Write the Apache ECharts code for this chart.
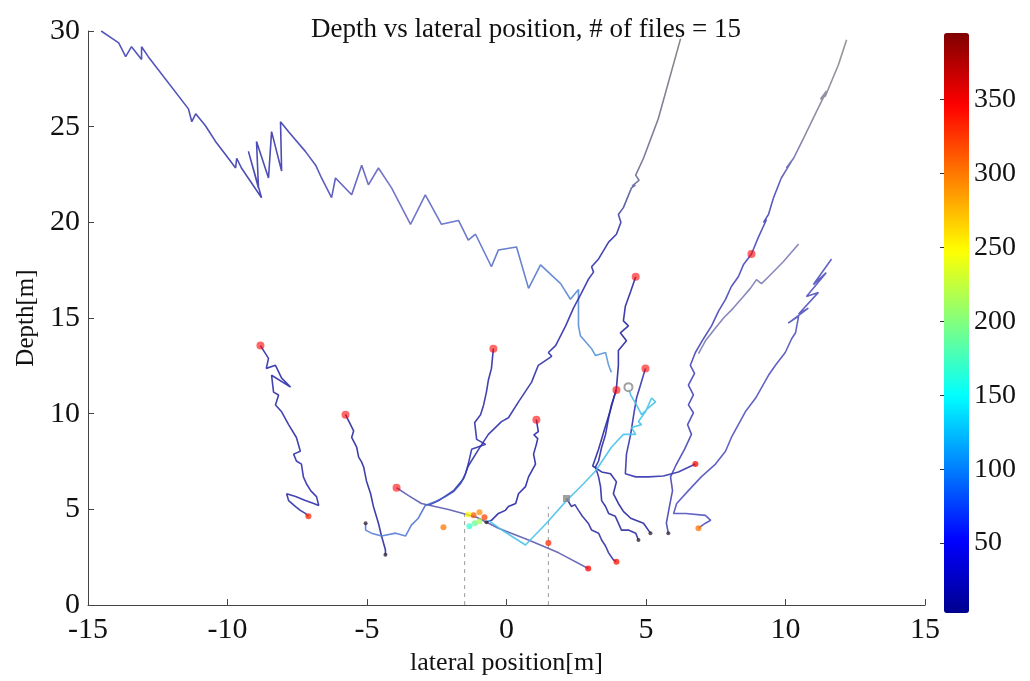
<!DOCTYPE html>
<html><head><meta charset="utf-8">
<script src="https://cdn.jsdelivr.net/npm/echarts@6/dist/echarts.min.js"></script>
<style>html,body{margin:0;padding:0;background:#fff}#c{width:1030px;height:681px}</style>
</head><body><div id="c"></div>
<script>
// ---- data (lateral position [m], depth [m]) ----
const titleText = 'Depth vs lateral position, # of files = 15';
const colorbarTicks = [50, 100, 150, 200, 250, 300, 350];
const colorMin = 3, colorMax = 395;

const t01 = [[-14.53,30.0],[-13.90,29.38],[-13.65,28.66],[-13.44,29.18],[-13.08,28.51],[-13.08,29.18],[-12.84,28.66],[-11.40,25.93],[-11.28,25.26],[-11.14,25.67],[-10.79,25.05],[-10.43,24.23],[-9.97,23.35],[-9.71,22.84],[-9.67,23.35],[-9.50,22.84],[-8.78,21.29],[-9.25,23.71],[-8.89,21.80],[-8.96,24.23],[-8.53,22.32],[-8.42,24.74],[-8.06,22.68],[-8.10,25.26],[-7.81,24.74],[-7.21,23.71],[-6.84,22.99],[-6.63,22.32],[-6.27,21.29],[-6.13,22.32],[-5.55,21.44],[-5.19,22.99],[-4.95,21.96],[-4.59,22.84],[-4.12,21.80],[-3.44,19.90],[-2.91,21.44],[-2.33,19.90],[-1.72,20.10],[-1.37,19.07],[-1.11,19.38],[-0.54,17.68],[-0.29,18.56],[0.36,18.71],[0.79,16.55],[1.22,17.78],[1.94,16.80],[2.29,15.98],[2.58,16.49],[2.58,14.59],[2.65,14.07],[3.05,13.40],[3.19,13.04],[3.55,13.20],[3.66,12.53],[3.76,12.16]];
const t02 = [[6.24,29.6],[5.44,25.41],[4.91,23.35],[4.63,22.47],[4.75,22.2],[4.50,21.9],[4.62,21.95],[4.48,21.80],[4.19,20.77],[4.01,20.41],[4.10,20.0],[3.94,19.38],[3.66,18.97],[3.30,18.09],[3.05,17.68],[3.12,17.4],[2.93,17.01],[2.68,16.29],[2.40,15.52],[2.12,14.59],[1.76,13.56],[1.50,13.20],[1.62,13.0],[1.14,12.53],[0.90,11.65],[0.43,10.62],[0.07,9.79],[-0.18,9.59],[-0.65,8.92],[-1.00,8.14],[-1.37,7.27],[-1.54,6.60],[-1.90,5.98],[-2.43,5.46],[-2.80,5.21]];
const t03 = [[-8.82,13.56],[-8.53,12.89],[-8.61,12.37],[-8.28,12.53],[-8.06,11.86],[-7.74,11.39],[-8.42,12.01],[-8.35,11.13],[-8.17,10.98],[-8.28,10.46],[-8.06,10.10],[-7.81,9.43],[-7.53,8.76],[-7.39,8.04],[-7.63,7.89],[-7.53,7.53],[-7.35,7.37],[-7.28,6.70],[-7.17,6.34],[-7.02,5.98],[-6.81,5.67],[-6.73,5.21],[-6.91,5.31],[-7.21,5.46],[-7.56,5.67],[-7.88,5.82],[-7.81,5.46],[-7.56,5.15],[-7.39,4.95],[-7.21,4.79],[-7.10,4.64]];
const t04 = [[-5.77,9.95],[-5.59,9.43],[-5.48,9.10],[-5.55,8.76],[-5.37,8.25],[-5.30,7.73],[-5.20,7.50],[-5.12,7.22],[-5.02,6.49],[-4.87,5.82],[-4.77,5.15],[-4.59,4.28],[-4.48,3.61],[-4.34,2.89],[-4.34,2.63]];
const t05 = [[-3.94,6.13],[-3.51,5.72],[-3.05,5.31],[-2.08,5.00],[-1.07,4.59],[-0.29,4.02],[0.79,3.40],[1.87,2.73],[2.93,1.91]];
const t06 = [[-0.47,13.40],[-0.54,12.37],[-0.65,11.75],[-0.72,11.13],[-0.82,10.46],[-0.93,9.95],[-1.14,9.54],[-1.07,8.66],[-0.75,8.40],[-1.25,8.14],[-1.37,7.37],[-1.47,6.86],[-1.65,6.34],[-1.90,5.93],[-2.19,5.67],[-2.54,5.41],[-2.91,5.21],[-3.16,4.54],[-3.41,4.18],[-3.62,3.61],[-3.97,3.76],[-4.48,3.61],[-4.84,3.76],[-5.05,3.92],[-5.05,4.28]];
const t07 = [[1.07,9.69],[1.14,9.07],[0.98,8.90],[1.12,8.70],[1.07,8.40],[0.97,7.89],[1.04,7.37],[0.79,6.70],[0.68,6.19],[0.43,5.82],[0.33,5.31],[0.07,5.15],[-0.04,4.95],[-0.29,4.79],[-0.54,4.43],[-0.72,4.33]];
const t08 = [[4.63,17.16],[4.45,16.39],[4.26,15.62],[4.19,14.85],[4.37,14.59],[4.08,14.23],[4.30,13.81],[4.01,13.30],[4.01,12.53],[3.94,11.34],[3.73,10.21],[3.51,9.18],[3.30,8.14],[3.09,7.27],[3.41,6.96],[3.73,6.86],[3.94,6.44],[3.83,5.82],[4.01,5.31],[4.19,4.90],[4.45,4.54],[4.91,4.28],[5.16,3.76]];
const t09 = [[4.98,12.37],[4.80,11.49],[4.66,10.82],[4.56,9.95],[4.45,8.92],[4.30,7.89],[4.26,6.86],[4.63,6.70],[5.09,6.70],[5.62,6.75],[6.16,6.96],[6.77,7.37]];
const t10 = [[3.94,11.24],[3.76,10.46],[3.66,9.79],[3.55,8.92],[3.41,8.25],[3.30,7.53],[3.19,7.22],[3.30,6.70],[3.37,6.19],[3.41,5.46],[3.55,5.15],[3.66,4.79],[3.90,4.64],[4.01,4.28],[4.12,3.92],[4.37,3.92],[4.63,3.76],[4.73,3.40]];
const t11 = [[12.19,29.54],[11.90,28.25],[11.43,26.60],[11.25,26.44],[11.47,26.86],[11.07,25.67],[10.64,24.38],[10.29,23.35],[10.03,22.84],[10.22,23.20],[9.85,22.32],[9.57,21.29],[9.39,20.41],[9.21,20.00],[9.32,20.15],[9.03,19.23],[8.78,18.35],[8.49,17.78],[8.31,17.16],[8.06,16.65],[7.85,15.98],[7.60,15.36],[7.35,14.59],[7.06,13.92],[6.77,13.20],[6.59,12.53],[6.74,12.11],[6.52,11.49],[6.70,10.98],[6.52,10.46],[6.70,10.05],[6.49,9.43],[6.63,8.92],[6.38,8.14],[6.06,7.27],[5.88,6.70],[5.95,5.98],[5.84,5.15],[5.73,4.28],[5.80,3.76]];
const t12 = [[11.65,18.09],[11.00,16.75],[11.46,17.37],[10.75,16.13],[11.18,16.34],[10.47,15.21],[10.82,15.52],[10.10,14.74],[10.47,15.10],[10.36,14.23],[10.22,13.92],[9.99,13.20],[9.64,12.53],[9.39,12.01],[8.93,10.82],[8.56,10.10],[8.31,9.43],[8.06,8.76],[7.85,8.04],[7.49,7.37],[6.98,6.70],[6.52,5.98],[6.10,5.31],[5.99,4.79],[6.42,4.79],[7.13,4.69],[7.32,4.43],[7.13,4.28],[6.88,4.02]];
const t13 = [[10.47,18.87],[9.92,17.94],[9.39,17.16],[9.14,16.80],[8.96,17.01],[8.74,16.55],[8.49,16.13],[8.13,15.52],[7.78,15.00],[7.49,14.48],[7.13,13.81],[6.88,13.14]];
const t14 = [[-0.65,4.43],[-0.11,3.87],[0.68,3.14],[1.43,4.28],[2.15,5.46],[2.76,6.34],[3.19,7.01],[3.76,8.25],[4.19,8.92],[4.63,8.92],[4.48,9.28],[4.84,9.43],[4.73,9.59],[4.98,10.10],[5.20,10.82],[5.34,10.62],[5.09,10.31],[4.84,9.95],[4.66,10.46],[4.45,10.98],[4.37,11.39]];
const t15 = [[2.15,5.57],[2.33,5.15],[2.45,5.25],[2.58,4.95],[2.72,4.64],[2.93,4.28],[3.05,3.92],[3.30,3.76],[3.41,3.40],[3.55,3.09],[3.66,2.73],[3.83,2.37],[3.94,2.27]];

// dashed reference lines at +/-1.5 m
const dashLeft = [[-1.5,0],[-1.5,4.8]];
const dashRight = [[1.5,0],[1.5,5.15]];

// markers: [x, y, colour value]
const startMarks = [[-8.82,13.56,345],[-5.77,9.95,345],[-3.94,6.13,345],[-0.47,13.40,345],[1.07,9.69,345],[4.63,17.16,345],[4.98,12.37,345],[3.94,11.24,345],[8.78,18.35,345]];
const hotMarks = [[-1.18,4.69,310],[-0.97,4.85,290],[-0.79,4.59,320],[-1.37,4.74,250],[-1.14,4.28,190],[-0.97,4.38,215],[-1.33,4.12,170],[-2.26,4.07,300],[1.50,3.25,330],[6.77,7.37,345],[2.93,1.91,345],[-7.10,4.64,330],[3.94,2.27,340],[6.88,4.02,300]];
const endMarks = [[-4.34,2.63],[-0.72,4.33],[4.73,3.40],[5.16,3.76],[5.80,3.76],[-5.05,4.28]];
const greyCircle = [[4.37,11.39]];
const greySquare = [[2.15,5.57]];

const jet = ['#00008f','#0000ff','#0080ff','#00ffff','#80ff80','#ffff00','#ff8000','#ff0000','#800000'];
const FONT = 'Liberation Serif';

function lin(x, y, x2, y2, stops) {
  return {type:'linear', x:x, y:y, x2:x2, y2:y2, colorStops: stops.map(s => ({offset:s[0], color:s[1]}))};
}

const tracks = [
  {d:t01, c: lin(0,0,1,0,[[0,'#4444b8'],[0.35,'#3838ae'],[0.55,'#6464c4'],[0.8,'#5670c8'],[1,'#5a9ad8']])},
  {d:t02, c: lin(0,0,0,1,[[0,'#7a7a7a'],[0.3,'#6c6c98'],[0.42,'#3030aa'],[1,'#3030aa']])},
  {d:t03, c:'#2f2fa8'},
  {d:t04, c:'#2b2ba2'},
  {d:t05, c:'#5c5cb0'},
  {d:t06, c: lin(0,0,0,1,[[0,'#2a2aa4'],[0.6,'#3232ac'],[0.85,'#4a6ad0'],[1,'#5a80d8']])},
  {d:t07, c:'#2626a8'},
  {d:t08, c:'#2828a2'},
  {d:t09, c:'#3434ae'},
  {d:t10, c:'#2c2ca6'},
  {d:t11, c: lin(0,0,0,1,[[0,'#8a8a8a'],[0.2,'#8080a0'],[0.3,'#4848bc'],[1,'#4444b4']])},
  {d:t12, c:'#5252c0'},
  {d:t13, c:'#7c7cb4'},
  {d:t14, c:'#48c2ea'},
  {d:t15, c:'#3232a4'}
];

const series = tracks.map(t => ({
  type:'line', data:t.d, showSymbol:false, symbol:'none', silent:true,
  lineStyle:{color:t.c, width:1.6, opacity:0.9}, z:2
}));
series.push({type:'line', data:dashLeft, symbol:'none', silent:true, lineStyle:{color:'#9a9a9a', width:1, type:[4,4]}, z:1});
series.push({type:'line', data:dashRight, symbol:'none', silent:true, lineStyle:{color:'#9a9a9a', width:1, type:[4,4]}, z:1});
const startIdx = series.length;
series.push({type:'scatter', data:startMarks, symbolSize:8, itemStyle:{opacity:0.6}, z:4});
const hotIdx = series.length;
series.push({type:'scatter', data:hotMarks, symbolSize:6, itemStyle:{opacity:0.75}, z:4});
series.push({type:'scatter', data:endMarks, symbolSize:4, itemStyle:{color:'#3a2a3a', opacity:0.8}, z:4});
series.push({type:'scatter', data:greyCircle, symbol:'emptyCircle', symbolSize:8, itemStyle:{color:'#8a8a8a', borderWidth:1.5}, z:4});
series.push({type:'scatter', data:greySquare, symbol:'rect', symbolSize:7, itemStyle:{color:'#8a8a8a', opacity:0.8}, z:4});

const axisStyle = {lineStyle:{color:'#444', width:1}};
const option = {
  animation:false,
  backgroundColor:'#ffffff',
  textStyle:{fontFamily:FONT},
  title:{text:titleText, left:306, top:11, textStyle:{fontFamily:FONT, fontSize:27, fontWeight:'normal', color:'#111'}},
  grid:[
    {left:88, right:105, top:31, bottom:68},
    {left:944, width:25, top:33, height:584}
  ],
  xAxis:[
    {type:'value', min:-15, max:15, interval:5, gridIndex:0,
     name:'lateral position[m]', nameLocation:'middle', nameGap:37,
     nameTextStyle:{fontFamily:FONT, fontSize:26, color:'#111'},
     axisLine:{show:true, onZero:false, ...axisStyle},
     axisTick:{show:true, inside:true, length:6, ...axisStyle},
     axisLabel:{fontFamily:FONT, fontSize:30, color:'#111', margin:10},
     splitLine:{show:false}},
    {type:'value', gridIndex:1, show:false, min:0, max:1}
  ],
  yAxis:[
    {type:'value', min:0, max:30, interval:5, gridIndex:0,
     name:'Depth[m]', nameLocation:'middle', nameGap:49, nameRotate:90,
     nameTextStyle:{fontFamily:FONT, fontSize:25, color:'#111'},
     axisLine:{show:true, onZero:false, ...axisStyle},
     axisTick:{show:true, inside:true, length:6, ...axisStyle},
     axisLabel:{fontFamily:FONT, fontSize:30, color:'#111', margin:8},
     splitLine:{show:false}},
    {type:'value', gridIndex:1, min:0, max:395, position:'right',
     axisLine:{show:false},
     axisTick:{show:true, inside:true, length:4, customValues:colorbarTicks, lineStyle:{color:'#333'}},
     axisLabel:{fontFamily:FONT, fontSize:28, color:'#111', margin:5, customValues:colorbarTicks},
     splitLine:{show:false}},
    {type:'value', gridIndex:1, min:0, max:395, position:'left',
     axisLine:{show:false},
     axisTick:{show:true, inside:true, length:4, customValues:colorbarTicks, lineStyle:{color:'#333'}},
     axisLabel:{show:false},
     splitLine:{show:false}}
  ],
  visualMap:{
    type:'continuous', min:colorMin, max:colorMax, dimension:2,
    seriesIndex:[startIdx, hotIdx], calculable:false, realtime:false,
    left:944, top:33, itemWidth:25, itemHeight:580, padding:0,
    inRange:{color:jet}, text:null, showLabel:false, hoverLink:false
  },
  series:series
};
const chart = echarts.init(document.getElementById('c'), null, {renderer:'canvas'});
chart.setOption(option);
</script>
</body></html>
